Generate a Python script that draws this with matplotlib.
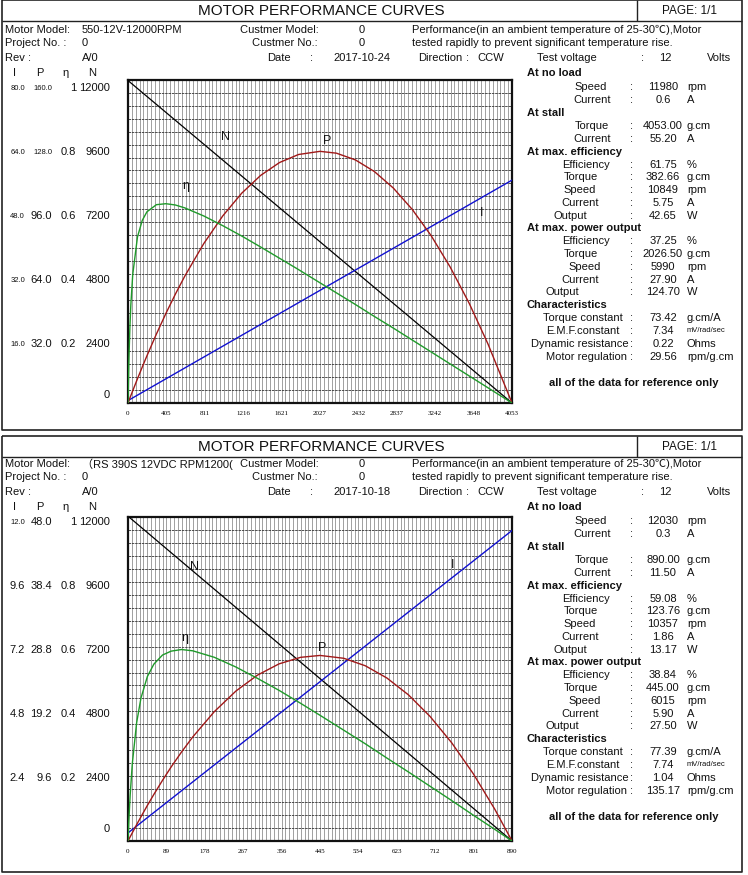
import numpy as np
import matplotlib.pyplot as plt

plt.rcParams['font.family'] = ['Liberation Sans', 'Noto Sans CJK SC', 'DejaVu Sans']

W, H = 748, 875

# header info for the two sheets
models = ['550-12V-12000RPM', '\uff08RS 390S 12VDC RPM1200(']
dates = ['2017-10-24', '2017-10-18']

# table values (no load / stall / max eff / max power / characteristics)
table_top = ['11980', '0.6', '4053.00', '55.20', '61.75', '382.66', '10849', '5.75', '42.65',
             '37.25', '2026.50', '5990', '27.90', '124.70', '73.42', '7.34', '0.22', '29.56']
table_bot = ['12030', '0.3', '890.00', '11.50', '59.08', '123.76', '10357', '1.86', '13.17',
             '38.84', '445.00', '6015', '5.90', '27.50', '77.39', '7.74', '1.04', '135.17']
row_names = ['Speed', 'Current', 'Torque', 'Current', 'Efficiency', 'Torque', 'Speed', 'Current', 'Output',
             'Efficiency', 'Torque', 'Speed', 'Current', 'Output',
             'Torque constant', 'E.M.F.constant', 'Dynamic resistance', 'Motor regulation']
row_units = ['rpm', 'A', 'g.cm', 'A', '%', 'g.cm', 'rpm', 'A', 'W', '%', 'g.cm', 'rpm', 'A', 'W',
             'g.cm/A', 'mV/rad/sec', 'Ohms', 'rpm/g.cm']
sections = ['At no load', 'At stall', 'At max. efficiency', 'At max. power output', 'Characteristics']

# left scale labels
N_labels = ['12000', '9600', '7200', '4800', '2400']
eta_labels = ['1', '0.8', '0.6', '0.4', '0.2']
I_labels_top = ['80.0', '64.0', '48.0', '32.0', '16.0']
P_labels_top = ['160.0', '128.0', '96.0', '64.0', '32.0']
I_labels_bot = ['12.0', '9.6', '7.2', '4.8', '2.4']
P_labels_bot = ['48.0', '38.4', '28.8', '19.2', '9.6']
I_max = [80, 12]
P_max = [160, 48]
N_max = 12000

# x ticks (torque g.cm)
xt_top = ['0', '405', '811', '1216', '1621', '2027', '2432', '2837', '3242', '3648', '4053']
xt_bot = ['0', '89', '178', '267', '356', '445', '534', '623', '712', '801', '890']

# curves, sheet 1
torque_top = [0, 10, 20, 30, 50, 100, 150, 200, 300, 400, 500, 600, 800, 1000, 1200, 1400, 1600,
              1800, 2027, 2200, 2400, 2600, 2800, 3000, 3200, 3400, 3600, 3800, 4053]
power_top = [0, 1.23, 2.45, 3.66, 6.08, 12.00, 17.77, 23.39, 34.18, 44.36, 53.93, 62.89, 79.00, 92.67,
             103.92, 112.74, 119.14, 123.10, 124.66, 123.75, 120.42, 114.67, 106.50, 95.89, 82.86,
             67.39, 49.50, 29.18, 0]
eff_top = [0, 0.139, 0.235, 0.304, 0.398, 0.514, 0.565, 0.592, 0.614, 0.617, 0.613, 0.604, 0.579, 0.549,
           0.517, 0.483, 0.448, 0.413, 0.372, 0.341, 0.305, 0.268, 0.232, 0.195, 0.158, 0.121,
           0.084, 0.047, 0]
speed_top = [11980, 0]
current_top = [0.6, 55.2]
stall_top = 4053

# curves, sheet 2
torque_bot = [0, 2, 5, 10, 20, 30, 45, 60, 80, 100, 124, 150, 200, 250, 300, 350, 400, 445, 500,
              550, 600, 650, 700, 750, 800, 850, 890]
power_bot = [0, 0.25, 0.61, 1.22, 2.42, 3.58, 5.28, 6.91, 8.99, 10.97, 13.18, 15.41, 19.16, 22.21,
             24.57, 26.24, 27.21, 27.49, 27.07, 25.96, 24.15, 21.65, 18.46, 14.57, 9.99, 4.72, 0]
eff_bot = [0, 0.063, 0.141, 0.239, 0.365, 0.441, 0.508, 0.546, 0.574, 0.586, 0.591, 0.587, 0.567,
           0.537, 0.502, 0.465, 0.425, 0.388, 0.342, 0.300, 0.256, 0.213, 0.169, 0.125, 0.080,
           0.036, 0]
speed_bot = [12030, 0]
current_bot = [0.3, 11.5]
stall_bot = 890

# layout (pixels)
row_y = [87, 100, 126, 139, 165, 177, 190, 203, 216, 241, 254, 267, 280, 292, 318, 331, 344, 357]
row_x = [591, 592, 592, 592, 586, 581, 580, 580, 570, 586, 581, 585, 580, 562, 583, 583, 580, 587]
sec_y = [73, 113, 152, 228, 305]

fig = plt.figure(figsize=(W / 100, H / 100), dpi=100)
bg = fig.add_axes([0, 0, 1, 1])
bg.set_xlim(0, W)
bg.set_ylim(H, 0)
bg.axis('off')


def txt(x, y, s, ha='left', fs=8, **kw):
    bg.text(x, y, s, ha=ha, va='center', fontsize=fs, color='#111111', **kw)


def line(xs, ys, lw=1.0):
    bg.plot(xs, ys, color='#222222', lw=lw, solid_capstyle='butt')


def draw_sheet(k, dy, box, ptop, pbot):
    # frame
    y0, y1 = box
    line([2, 742, 742, 2, 2], [y0, y0, y1, y1, y0], lw=1.2)
    line([2, 742], [y0 + 21, y0 + 21])
    line([637, 637], [y0, y0 + 21])
    txt(321, y0 + 11, 'MOTOR PERFORMANCE CURVES', ha='center', fs=11)
    txt(690, y0 + 11, 'PAGE: 1/1', ha='center', fs=8.5)

    txt(5, dy + 30, 'Motor Model:')
    txt(82, dy + 30, models[k])
    txt(240, dy + 30, 'Custmer Model:')
    txt(362, dy + 30, '0', ha='center')
    txt(412, dy + 30, 'Performance(in an ambient temperature of 25-30\u2103),Motor')
    txt(5, dy + 43, 'Project No. :')
    txt(82, dy + 43, '0')
    txt(252, dy + 43, 'Custmer No.:')
    txt(362, dy + 43, '0', ha='center')
    txt(412, dy + 43, 'tested rapidly to prevent significant temperature rise.')
    txt(5, dy + 58, 'Rev :')
    txt(82, dy + 58, 'A/0')
    txt(267, dy + 58, 'Date')
    txt(310, dy + 58, ':')
    txt(333, dy + 58, dates[k])
    txt(418, dy + 58, 'Direction')
    txt(466, dy + 58, ':')
    txt(477, dy + 58, 'CCW')
    txt(537, dy + 58, 'Test voltage')
    txt(641, dy + 58, ':')
    txt(665, dy + 58, '12', ha='center')
    txt(707, dy + 58, 'Volts')

    # scale column heads
    for x, s in zip([15, 40, 66, 92], ['I', 'P', '\u03b7', 'N']):
        txt(x, dy + 73, s, ha='center')
    I_lab = [I_labels_top, I_labels_bot][k]
    P_lab = [P_labels_top, P_labels_bot][k]
    for i in range(5):
        yy = dy + 88 + 64 * i
        txt(25, yy, I_lab[i], ha='right', fs=5.5 if len(I_lab[i]) >= 4 else 8)
        txt(52, yy, P_lab[i], ha='right', fs=5.5 if len(P_lab[i]) >= 5 else 8)
        txt(76, yy, eta_labels[i], ha='right')
        txt(110, yy, N_labels[i], ha='right')
    txt(110, dy + 395, '0', ha='right')

    # right table
    vals = [table_top, table_bot][k]
    for s, yy in zip(sections, sec_y):
        txt(527, dy + yy, s, fontweight='bold')
    for i in range(len(vals)):
        yy = dy + row_y[i]
        txt(row_x[i], yy, row_names[i], ha='center')
        txt(632, yy, ':', ha='center')
        txt(663, yy, vals[i], ha='center')
        txt(687, yy, row_units[i], fs=5.5 if row_units[i] == 'mV/rad/sec' else 8)
    txt(634, dy + 383, 'all of the data for reference only', ha='center', fontweight='bold')

    # chart
    tq = [torque_top, torque_bot][k]
    pw = [power_top, power_bot][k]
    ef = [eff_top, eff_bot][k]
    sp = [speed_top, speed_bot][k]
    cu = [current_top, current_bot][k]
    st = [stall_top, stall_bot][k]
    xt = [xt_top, xt_bot][k]

    ax = fig.add_axes([128 / W, 1 - pbot / H, 384 / W, (pbot - ptop) / H])
    ax.set_xlim(0, st)
    ax.set_ylim(0, N_max)
    ax.set_xticks(np.linspace(0, st, 11))
    ax.set_xticklabels(xt, fontsize=5, family='Liberation Serif')
    ax.set_xticks(np.linspace(0, st, 101), minor=True)
    ax.set_yticks(np.linspace(0, N_max, 26))
    ax.set_yticklabels([])
    ax.tick_params(which='both', length=0)
    ax.tick_params(axis='x', pad=6)
    ax.grid(which='both', axis='x', color='#909090', lw=0.6)
    ax.grid(axis='y', color='#333333', lw=0.6, ls=(0, (3, 1)))
    ax.set_axisbelow(True)
    for s in ax.spines.values():
        s.set_linewidth(1.6)
        s.set_color('#111111')
    ax.plot([0, st], sp, color='black', lw=0.9, zorder=3)

    ax_i = ax.twinx()
    ax_i.set_ylim(0, I_max[k])
    ax_i.axis('off')
    ax_i.plot([0, st], cu, color='#1010d0', lw=1.0)
    ax_p = ax.twinx()
    ax_p.set_ylim(0, P_max[k])
    ax_p.axis('off')
    ax_p.plot(tq, pw, color='#a01818', lw=1.0)
    ax_e = ax.twinx()
    ax_e.set_ylim(0, 1)
    ax_e.axis('off')
    ax_e.plot(tq, ef, color='#1f9a2a', lw=1.0)

    pos = [[(0.253, 0.824), (0.518, 0.811), (0.151, 0.672), (0.922, 0.588)],
           [(0.174, 0.846), (0.505, 0.596), (0.148, 0.627), (0.844, 0.852)]][k]
    for (fx, fy), s in zip(pos, ['N', 'P', '\u03b7', 'I']):
        ax_e.text(fx, fy, s, transform=ax_e.transAxes, ha='center', va='center', fontsize=9,
                  color='#111111')


draw_sheet(0, 0, (0, 430), 80, 403)
draw_sheet(1, 434, (436, 872), 517, 841)

fig.savefig('out.png', dpi=100)
